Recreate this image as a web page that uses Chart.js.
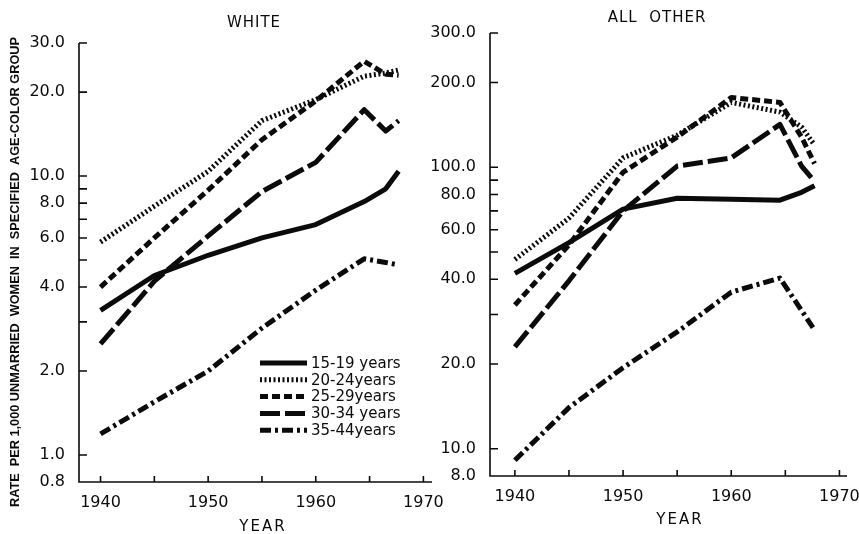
<!DOCTYPE html>
<html>
<head>
<meta charset="utf-8">
<script src="https://cdn.jsdelivr.net/npm/chart.js@4.4.1/dist/chart.umd.min.js"></script>
<style>
    html, body { margin: 0; padding: 0; background: #fff; }
    #wrap { position: relative; width: 859px; height: 534px; overflow: hidden; background: #fff; }
    canvas { position: absolute; top: 0; }
    #whiteChart { left: 0; width: 450px; height: 534px; }
    #otherChart { left: 420px; width: 439px; height: 534px; }
</style>
</head>
<body>
<div id="wrap">
    <canvas id="whiteChart" width="450" height="534"></canvas>
    <canvas id="otherChart" width="439" height="534"></canvas>
</div>
<script>
"use strict";

const years = [1940, 1945, 1950, 1955, 1960, 1964.5, 1966.5, 1967.7];
const ageGroups = ["15-19 years", "20-24years", "25-29years", "30-34 years", "35-44years"];

// WHITE, rate per 1,000 unmarried women
const white1519 = [3.3, 4.4, 5.2, 6.0, 6.7, 8.1, 9.0, 10.4];
const white2024 = [5.8, 7.8, 10.4, 15.8, 18.8, 22.8, 23.4, 24.0];
const white2529 = [4.0, 6.0, 8.9, 13.5, 18.6, 25.8, 23.2, 23.0];
const white3034 = [2.5, 4.2, 6.1, 8.8, 11.2, 17.3, 14.5, 15.8];
const white3544 = [1.19, 1.55, 2.0, 2.85, 3.9, 5.05, 4.9, 4.8];

// ALL OTHER
const other1519 = [42, 54, 71, 77.6, 77, 76.4, 81.5, 86];
const other2024 = [47, 66, 108, 130, 170, 157, 139, 120];
const other2529 = [32.4, 53, 96, 128, 177, 170, 128, 103];
const other3034 = [23, 39.5, 70, 101, 108, 142, 101, 89];
const other3544 = [9.1, 14.0, 19.4, 26.0, 36.0, 40.4, 31, 26.4];

// tick labels
const xTicks = [1940, 1945, 1950, 1955, 1960, 1965, 1970];
const xTickLabels = [1940, 1950, 1960, 1970];
const whiteTickLabels = [0.8, 1, 2, 4, 6, 8, 10, 20, 30];
const whiteMinorTicks = [3, 5, 7, 9];
const otherTickLabels = [8, 10, 20, 40, 60, 80, 100, 200, 300];
const otherMinorTicks = [30, 50, 70, 90];

const lineStyles = [
    { width: 5,   dash: [] },
    { width: 5,   dash: [2, 2.5] },
    { width: 5,   dash: [8, 4] },
    { width: 5,   dash: [20, 5] },
    { width: 5,   dash: [11, 4, 3, 4] }
];
const INK = "#0b0b0b";
const FONT = "\"DejaVu Sans\", sans-serif";

// axis lines and inward tick marks
const axisPlugin = {
    id: "inwardAxes",
    afterDraw(chart) {
        const { ctx, chartArea: a, scales: { x, y } } = chart;
        ctx.save();
        ctx.strokeStyle = INK;
        ctx.lineWidth = 1.6;
        ctx.beginPath();
        ctx.moveTo(a.left, a.top);
        ctx.lineTo(a.left, a.bottom);
        ctx.lineTo(a.right, a.bottom);
        y.ticks.forEach(t => {
            const py = y.getPixelForValue(t.value);
            ctx.moveTo(a.left, py);
            ctx.lineTo(a.left + 8, py);
        });
        x.ticks.forEach(t => {
            const px = x.getPixelForValue(t.value);
            ctx.moveTo(px, a.bottom);
            ctx.lineTo(px, a.bottom - 6);
        });
        ctx.stroke();
        ctx.restore();
    }
};

// titles, axis titles and the legend
const decorPlugin = {
    id: "decor",
    afterDraw(chart, args, o) {
        const ctx = chart.ctx;
        ctx.save();
        ctx.fillStyle = INK;
        ctx.textAlign = "center";
        ctx.textBaseline = "middle";

        ctx.font = "15px " + FONT;
        ctx.letterSpacing = o.titleSpacing + "px";
        ctx.fillText(o.title, o.titleX, o.titleY);

        ctx.font = "15px " + FONT;
        ctx.letterSpacing = "2px";
        ctx.fillText("YEAR", o.yearX, o.yearY);
        ctx.letterSpacing = "0px";

        if (o.yTitle) {
            ctx.save();
            ctx.translate(o.yTitleX, o.yTitleY);
            ctx.rotate(-Math.PI / 2);
            ctx.font = "bold 12px \"Liberation Sans\", sans-serif";
            const w = ctx.measureText(o.yTitle).width;
            ctx.scale(o.yTitleWidth / w, 1);
            ctx.fillText(o.yTitle, 0, 0);
            ctx.restore();
        }

        if (o.legend) {
            const L = o.legend;
            chart.data.datasets.forEach((ds, i) => {
                const ly = L.top + i * L.step;
                ctx.beginPath();
                ctx.strokeStyle = INK;
                ctx.lineWidth = ds.borderWidth;
                ctx.setLineDash(ds.borderDash);
                ctx.moveTo(L.x0, ly);
                ctx.lineTo(L.x1, ly);
                ctx.stroke();
                ctx.setLineDash([]);
                ctx.font = "15px " + FONT;
                ctx.textAlign = "left";
                ctx.fillText(ds.label, L.x1 + 4, ly + 1);
            });
        }
        ctx.restore();
    }
};

function buildChart(id, cfg) {
    const tickValues = cfg.labelTicks.concat(cfg.minorTicks).sort((a, b) => a - b);
    return new Chart(document.getElementById(id), {
        type: "line",
        data: {
            datasets: cfg.series.map((vals, i) => ({
                label: ageGroups[i],
                data: years.map((yr, j) => ({ x: yr, y: vals[j] })),
                borderColor: INK,
                borderWidth: lineStyles[i].width,
                borderDash: lineStyles[i].dash,
                borderCapStyle: "butt",
                borderJoinStyle: "round",
                pointRadius: 0,
                fill: false,
                tension: 0
            }))
        },
        options: {
            responsive: false,
            animation: false,
            events: [],
            layout: {
                autoPadding: false,
                padding: { left: 0, top: cfg.area.top, right: cfg.width - cfg.area.right, bottom: 0 }
            },
            plugins: {
                legend: { display: false },
                tooltip: { enabled: false },
                decor: cfg.decor
            },
            scales: {
                x: {
                    type: "linear",
                    min: cfg.xMin,
                    max: cfg.xMax,
                    grid: { display: false },
                    border: { display: false },
                    afterBuildTicks: s => { s.ticks = xTicks.map(v => ({ value: v })); },
                    afterFit: s => {
                        s.height = cfg.height - cfg.area.bottom;
                        s.paddingLeft = 0; s.paddingRight = 0;
                    },
                    ticks: {
                        autoSkip: false, maxRotation: 0, padding: 3,
                        color: INK, font: { family: FONT, size: 16 },
                        callback: v => xTickLabels.includes(v) ? String(v) : ""
                    }
                },
                y: {
                    type: "logarithmic",
                    min: cfg.yMin,
                    max: cfg.yMax,
                    grid: { display: false },
                    border: { display: false },
                    afterBuildTicks: s => { s.ticks = tickValues.map(v => ({ value: v })); },
                    afterFit: s => {
                        s.width = cfg.area.left;
                        s.paddingTop = 0; s.paddingBottom = 0;
                    },
                    ticks: {
                        autoSkip: false, padding: 6,
                        color: INK, font: { family: FONT, size: 16 },
                        callback: v => cfg.labelTicks.includes(v) ? Number(v).toFixed(1) : ""
                    }
                }
            }
        },
        plugins: [axisPlugin, decorPlugin]
    });
}

buildChart("whiteChart", {
    width: 450, height: 534,
    area: { left: 79, right: 432, top: 43, bottom: 482 },
    xMin: 1938, xMax: 1970.8,
    yMin: 0.8, yMax: 30,
    labelTicks: whiteTickLabels, minorTicks: whiteMinorTicks,
    series: [white1519, white2024, white2529, white3034, white3544],
    decor: {
        title: "WHITE", titleX: 254, titleY: 23, titleSpacing: 1,
        yearX: 263, yearY: 527,
        yTitle: "RATE  PER 1,000 UNMARRIED  WOMEN  IN  SPECIFIED  AGE-COLOR GROUP",
        yTitleX: 16, yTitleY: 272, yTitleWidth: 470,
        legend: { x0: 260, x1: 307, top: 363, step: 16.8 }
    }
});

buildChart("otherChart", {
    width: 439, height: 534,
    area: { left: 70, right: 427, top: 33, bottom: 476 },
    xMin: 1937.7, xMax: 1970.7,
    yMin: 8, yMax: 300,
    labelTicks: otherTickLabels, minorTicks: otherMinorTicks,
    series: [other1519, other2024, other2529, other3034, other3544],
    decor: {
        title: "ALL  OTHER", titleX: 237, titleY: 18, titleSpacing: 1,
        yearX: 260, yearY: 520
    }
});
</script>
</body>
</html>
